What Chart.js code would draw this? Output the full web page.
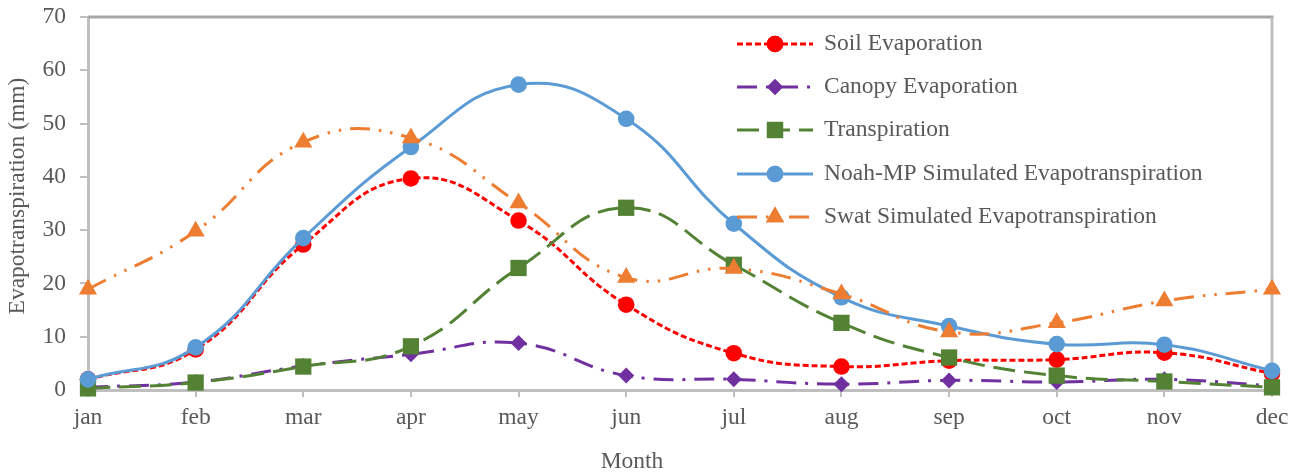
<!DOCTYPE html>
<html>
<head>
<meta charset="utf-8">
<script src="https://cdn.jsdelivr.net/npm/chart.js@4/dist/chart.umd.min.js"></script>
<style>
  html, body { margin: 0; padding: 0; background: #ffffff; }
  #wrap { width: 1302px; height: 475px; }
</style>
</head>
<body>
<div id="wrap"><canvas id="et" width="1302" height="475"></canvas></div>
<script>
// Monthly evapotranspiration components (mm)
const months = ['jan', 'feb', 'mar', 'apr', 'may', 'jun', 'jul', 'aug', 'sep', 'oct', 'nov', 'dec'];
const soilEvaporation   = [2.0, 7.6, 27.3, 39.7, 31.8, 16.0, 6.9, 4.4, 5.5, 5.7, 7.0, 3.1];
const canopyEvaporation = [0.5, 1.5, 4.5, 6.7, 8.8, 2.7, 2.0, 1.1, 1.8, 1.5, 2.0, 0.8];
const transpiration     = [0.3, 1.4, 4.4, 8.2, 22.9, 34.2, 23.5, 12.6, 6.1, 2.7, 1.6, 0.5];
const noahMpET          = [2.0, 8.0, 28.5, 45.6, 57.3, 50.9, 31.2, 17.4, 12.0, 8.6, 8.5, 3.6];
const swatET            = [18.9, 29.8, 46.5, 47.3, 35.1, 21.1, 22.8, 18.0, 10.9, 12.6, 16.7, 18.9];
const yTicks = [0, 10, 20, 30, 40, 50, 60, 70];
const xTitle = 'Month';
const yTitle = 'Evapotranspiration (mm)';

const FONT = 'Liberation Serif, "Times New Roman", serif';
const SIZE = 23.5;
const TEXT = '#595959';

function series(label, data, color, dash, style, radius, order) {
  return {
    label, data,
    borderColor: color, backgroundColor: color,
    borderWidth: 3, borderDash: dash, borderCapStyle: 'butt',
    pointStyle: style, pointRadius: radius, pointHoverRadius: radius,
    pointBackgroundColor: color, pointBorderColor: color, pointBorderWidth: 0,
    tension: 0.45, fill: false, clip: false, order
  };
}

const datasets = [
  series('Soil Evaporation', soilEvaporation, '#FF0000', [6, 3], 'circle', 8.3, 4),
  series('Canopy Evaporation', canopyEvaporation, '#7030A0', [20, 9, 3, 9], 'rectRot', 8, 3),
  series('Transpiration', transpiration, '#548235', [22, 9], 'rect', 11.5, 2),
  series('Noah-MP Simulated Evapotranspiration', noahMpET, '#5B9BD5', [], 'circle', 8.3, 1),
  series('Swat Simulated Evapotranspiration', swatET, '#ED7D31', [20, 9, 2.5, 9, 2.5, 9], 'triangle', 10.5, 0)
];

// Top and right frame of the plot area, plus the two axis titles
const frame = {
  id: 'frame',
  beforeDatasetsDraw(chart) {
    const { ctx, chartArea: a } = chart;
    ctx.save();
    ctx.lineWidth = 3;
    ctx.strokeStyle = '#a6a6a6';
    ctx.beginPath();
    ctx.moveTo(a.left, a.top);
    ctx.lineTo(a.right + 1.5, a.top);
    ctx.stroke();
    ctx.strokeStyle = '#bfbfbf';
    ctx.beginPath();
    ctx.moveTo(a.right, a.top);
    ctx.lineTo(a.right, a.bottom);
    ctx.stroke();

    ctx.fillStyle = TEXT;
    ctx.font = SIZE + 'px ' + FONT;
    ctx.textAlign = 'center';
    ctx.textBaseline = 'middle';
    ctx.fillText(xTitle, 632, 462);
    ctx.translate(18, 196);
    ctx.rotate(-Math.PI / 2);
    ctx.fillText(yTitle, 0, 0);
    ctx.restore();
  }
};

// Vertical legend inside the plot, each entry a line sample with its marker
const insideLegend = {
  id: 'insideLegend',
  afterDraw(chart) {
    const { ctx } = chart;
    const x0 = 737, x1 = 813, xm = 775, xt = 824;
    const rows = [44, 87, 130, 174, 217];
    ctx.save();
    chart.data.datasets.forEach((ds, i) => {
      const y = rows[i];
      ctx.strokeStyle = ds.borderColor;
      ctx.lineWidth = ds.borderWidth;
      ctx.lineCap = 'butt';
      ctx.setLineDash(ds.borderDash || []);
      ctx.beginPath();
      ctx.moveTo(x0, y);
      ctx.lineTo(x1, y);
      ctx.stroke();
      ctx.setLineDash([]);
      ctx.fillStyle = ds.pointBackgroundColor;
      Chart.helpers.drawPoint(ctx, {
        pointStyle: ds.pointStyle, radius: ds.pointRadius, rotation: 0, borderWidth: 0
      }, xm, y);
      ctx.fill();
      ctx.fillStyle = TEXT;
      ctx.font = SIZE + 'px ' + FONT;
      ctx.textBaseline = 'middle';
      ctx.textAlign = 'left';
      ctx.fillText(ds.label, xt, y);
    });
    ctx.restore();
  }
};

new Chart(document.getElementById('et'), {
  type: 'line',
  data: { labels: months, datasets },
  plugins: [frame, insideLegend],
  options: {
    responsive: false,
    animation: false,
    devicePixelRatio: 1,
    layout: { padding: { top: 17, right: 30, left: 0, bottom: 0 } },
    plugins: { legend: { display: false }, tooltip: { enabled: false } },
    scales: {
      x: {
        type: 'category',
        offset: false,
        afterFit(s) { s.height = 85; s.paddingLeft = 0; s.paddingRight = 0; },
        grid: { drawOnChartArea: false, tickLength: 7, color: '#bfbfbf', lineWidth: 2 },
        border: { color: '#bfbfbf', width: 3 },
        ticks: { font: { family: FONT, size: SIZE }, color: TEXT, padding: 7, maxRotation: 0, autoSkip: false }
      },
      y: {
        min: 0, max: 70,
        afterFit(s) { s.width = 88; s.paddingTop = 0; s.paddingBottom = 0; },
        afterBuildTicks(s) { s.ticks = yTicks.map(v => ({ value: v })); },
        grid: { drawOnChartArea: false, tickLength: 8, color: '#bfbfbf', lineWidth: 2 },
        border: { color: '#bfbfbf', width: 3 },
        ticks: { font: { family: FONT, size: SIZE }, color: TEXT, padding: 14 }
      }
    }
  }
});
</script>
</body>
</html>
